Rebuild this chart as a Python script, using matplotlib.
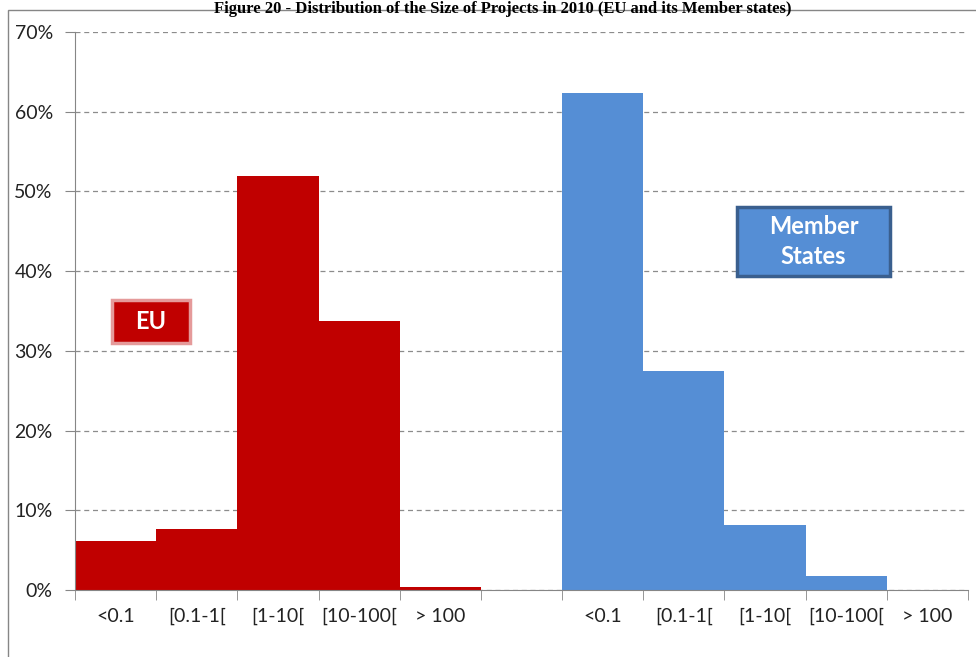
import numpy as np
import matplotlib.pyplot as plt
from matplotlib.patches import Rectangle

size_classes = ['<0.1', '[0.1-1[', '[1-10[', '[10-100[', '> 100']
eu_share = [6.1, 7.6, 51.9, 33.8, 0.4]
ms_share = [62.4, 27.5, 8.1, 1.75, 0.0]

eu_color = '#C00000'
ms_color = '#558ED5'

plt.rcParams['font.family'] = ['Lato', 'DejaVu Sans']

fig = plt.figure(figsize=(9.76, 6.57), dpi=100)
ax = fig.add_axes([75 / 976, 1 - 590 / 657, 893 / 976, 558 / 657])

# 11 slots: 5 EU, empty gap, 5 member states
n = len(size_classes)
x_eu = np.arange(n)
x_ms = np.arange(n) + n + 1
ax.bar(x_eu, eu_share, width=1.0, color=eu_color, zorder=3)
ax.bar(x_ms, ms_share, width=1.0, color=ms_color, zorder=3)

ax.set_xlim(-0.5, 2 * n + 0.5)
ax.set_ylim(0, 70)

ax.set_yticks(np.arange(0, 71, 10))
ax.set_yticklabels([f'{v}%' for v in range(0, 71, 10)], fontsize=14, color='#222222')
ax.yaxis.grid(True, linestyle=(0, (4, 3)), color='#8c8c8c', linewidth=0.9, zorder=0)

centers = list(x_eu) + list(x_ms)
ax.set_xticks(centers)
ax.set_xticklabels(size_classes * 2, fontsize=14, color='#222222')
ax.tick_params(axis='x', length=0, pad=13)
ax.set_xticks(np.arange(-0.5, 2 * n + 1, 1.0), minor=True)
ax.tick_params(axis='x', which='minor', length=7, color='#868686', direction='out')
ax.tick_params(axis='y', length=7, color='#868686', direction='out', pad=9)

for side in ['top', 'right']:
    ax.spines[side].set_visible(False)
for side in ['left', 'bottom']:
    ax.spines[side].set_color('#868686')
    ax.spines[side].set_zorder(4)

# legend-like boxes
ax.add_patch(Rectangle((0.0414, 0.4427), 0.0874, 0.077, transform=ax.transAxes,
                       facecolor=eu_color, edgecolor='#E59A9A', linewidth=2.5, zorder=5))
ax.text(0.0851, 0.4812, 'EU', transform=ax.transAxes, ha='center', va='center',
        color='white', fontsize=17, fontweight='bold', zorder=6)
ax.add_patch(Rectangle((0.7413, 0.5627), 0.1714, 0.1237, transform=ax.transAxes,
                       facecolor=ms_color, edgecolor='#3A5F8E', linewidth=2.5, zorder=5))
ax.text(0.827, 0.6245, 'Member\nStates', transform=ax.transAxes, ha='center', va='center',
        color='white', fontsize=17, fontweight='bold', linespacing=1.35, zorder=6)

# chart frame and caption above it
fig.patches.append(Rectangle((8 / 976, -0.01), 1.0, 1 - 10 / 657 + 0.01,
                             transform=fig.transFigure, fill=False,
                             edgecolor='#868686', linewidth=1.0))
fig.text(0.515, 1 - 1 / 657,
         'Figure 20 - Distribution of the Size of Projects in 2010 (EU and its Member states)',
         ha='center', va='top', fontsize=12, fontweight='bold',
         family='Liberation Serif')

fig.savefig('out.png', dpi=100)
